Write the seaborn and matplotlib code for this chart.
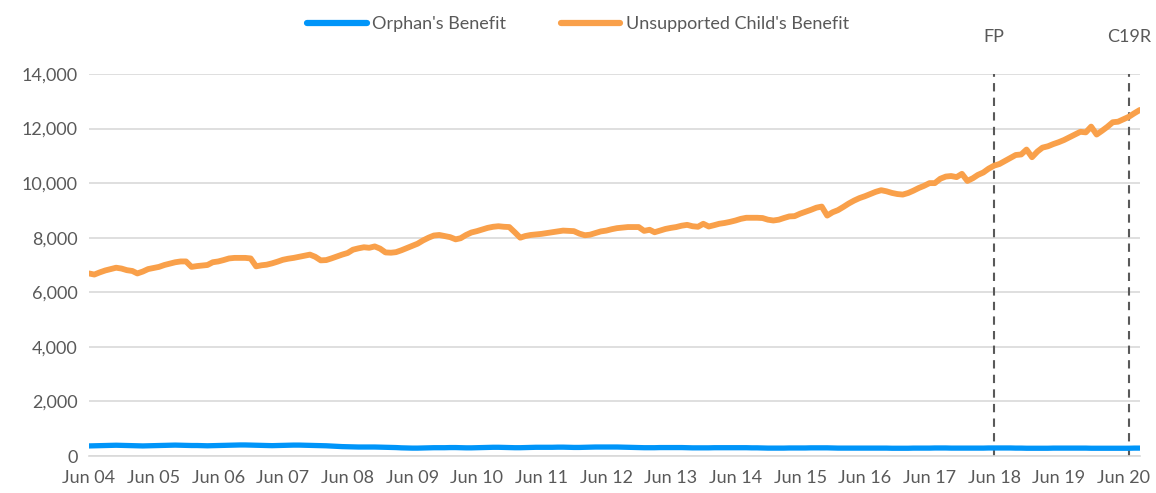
import numpy as np
import pandas as pd
import matplotlib
matplotlib.use('Agg')
import matplotlib.pyplot as plt
import matplotlib.transforms as mtransforms
from matplotlib.ticker import FuncFormatter
import seaborn as sns

# ---------------------------------------------------------------------------
# DATA  (monthly, Jun 2004 - Sep 2020)
# ---------------------------------------------------------------------------
START_MONTH = '2004-06-01'

orphans_benefit = [
    370, 375, 380, 385, 390, 395, 390, 385, 380, 375, 370, 375,   # Jun04-May05
    380, 385, 390, 395, 400, 395, 390, 385, 385, 380, 375, 380,   # Jun05-May06
    385, 390, 395, 400, 405, 405, 400, 395, 390, 385, 380, 385,   # Jun06-May07
    390, 395, 400, 400, 395, 390, 385, 380, 375, 365, 355, 345,   # Jun07-May08
    340, 335, 330, 330, 330, 330, 325, 320, 315, 310, 300, 295,   # Jun08-May09
    290, 290, 295, 300, 305, 305, 305, 310, 310, 305, 300, 300,   # Jun09-May10
    305, 310, 315, 320, 320, 315, 310, 305, 305, 310, 315, 320,   # Jun10-May11
    320, 320, 320, 325, 325, 320, 315, 315, 320, 325, 330, 330,   # Jun11-May12
    330, 330, 330, 325, 320, 315, 310, 305, 305, 305, 310, 310,   # Jun12-May13
    310, 310, 310, 305, 300, 300, 300, 300, 305, 305, 305, 305,   # Jun13-May14
    305, 305, 305, 300, 300, 295, 290, 290, 290, 290, 295, 295,   # Jun14-May15
    295, 295, 300, 300, 300, 300, 295, 290, 290, 290, 290, 290,   # Jun15-May16
    290, 290, 290, 290, 290, 285, 285, 285, 285, 290, 290, 290,   # Jun16-May17
    290, 295, 295, 295, 290, 290, 290, 290, 290, 290, 290, 295,   # Jun17-May18
    295, 295, 295, 295, 290, 290, 285, 285, 285, 285, 285, 290,   # Jun18-May19
    290, 290, 290, 290, 290, 290, 285, 285, 285, 285, 285, 285,   # Jun19-May20
    285, 285, 290, 290,                                           # Jun20-Sep20
]

unsupported_childs_benefit = [
    6690, 6650, 6730, 6800, 6850, 6900, 6870, 6810, 6780, 6690, 6760, 6850,
    6890, 6930, 7000, 7050, 7100, 7130, 7130, 6930, 6960, 6980, 7000, 7100,
    7130, 7180, 7240, 7260, 7260, 7260, 7240, 6950, 6990, 7010, 7060, 7120,
    7190, 7230, 7260, 7300, 7340, 7380, 7300, 7170, 7180, 7240, 7310, 7380,
    7440, 7560, 7610, 7650, 7630, 7680, 7600, 7460, 7450, 7470, 7540, 7620,
    7700, 7780, 7900, 8000, 8080, 8100, 8060, 8020, 7940, 7980, 8100, 8190,
    8240, 8300, 8360, 8400, 8420, 8400, 8390, 8200, 8000, 8060, 8100, 8120,
    8140, 8170, 8200, 8230, 8260, 8250, 8240, 8150, 8090, 8110, 8170, 8230,
    8260, 8310, 8350, 8370, 8390, 8390, 8390, 8250, 8290, 8200, 8260, 8320,
    8360, 8390, 8440, 8470, 8420, 8400, 8510, 8410, 8460, 8510, 8540, 8580,
    8630, 8690, 8730, 8730, 8730, 8720, 8660, 8630, 8660, 8720, 8780, 8790,
    8880, 8950, 9020, 9100, 9140, 8810, 8930, 9010, 9130, 9250, 9360, 9450,
    9520, 9600, 9680, 9740, 9700, 9640, 9600, 9580, 9640, 9720, 9820, 9900,
    10000, 10000, 10160, 10240, 10260, 10220, 10340, 10080, 10180, 10300, 10390, 10530,
    10640, 10700, 10810, 10920, 11030, 11050, 11230, 10950, 11160, 11300, 11350, 11430,
    11500, 11580, 11680, 11780, 11880, 11860, 12070, 11780, 11920, 12060, 12230, 12250,
    12340, 12430, 12560, 12680,
]

series_names = ["Orphan's Benefit", "Unsupported Child's Benefit"]
series_colors = ['#0095F9', '#F9A04A']

event_labels = ['FP', 'C19R']
event_dates = ['2018-06-01', '2020-07-01']

# ---------------------------------------------------------------------------
# BUILD TABLE
# ---------------------------------------------------------------------------
months = pd.date_range(START_MONTH, periods=len(unsupported_childs_benefit), freq='MS')
df = pd.concat([
    pd.DataFrame({'month': months, 'recipients': orphans_benefit, 'benefit': series_names[0]}),
    pd.DataFrame({'month': months, 'recipients': unsupported_childs_benefit, 'benefit': series_names[1]}),
], ignore_index=True)

# ---------------------------------------------------------------------------
# PLOT
# ---------------------------------------------------------------------------
sns.set_style('white')
plt.rcParams['font.family'] = ['Lato', 'DejaVu Sans']

TEXT_GREY = '#595959'
GRID_GREY = '#d9d9d9'
FS = 13

fig, ax = plt.subplots(figsize=(11.56, 4.93), dpi=100)
fig.subplots_adjust(left=0.077, right=0.986, bottom=0.075, top=0.85)

sns.lineplot(data=df, x='month', y='recipients', hue='benefit',
             hue_order=series_names, palette=dict(zip(series_names, series_colors)),
             linewidth=4.2, ax=ax, legend=False)
# blue a touch thinner than orange
ax.lines[0].set_linewidth(3.8)

ax.set_ylim(0, 14000)
ax.set_xlim(months[0], months[-1])
ax.set_yticks(np.arange(0, 14001, 2000))
ax.yaxis.set_major_formatter(FuncFormatter(lambda v, _: f'{int(v):,}'))

jun_ticks = pd.date_range('2004-06-01', '2020-06-01', freq='12MS')
ax.set_xticks(jun_ticks)
ax.set_xticklabels([d.strftime('Jun %y') for d in jun_ticks])

ax.grid(axis='y', color=GRID_GREY, linewidth=1.2)
ax.set_axisbelow(True)
for side in ['top', 'right', 'left']:
    ax.spines[side].set_visible(False)
ax.spines['bottom'].set_color(GRID_GREY)
ax.spines['bottom'].set_linewidth(1.2)

ax.tick_params(axis='x', which='major', direction='out', length=7, width=1.2,
               color=GRID_GREY, labelsize=FS, labelcolor=TEXT_GREY, pad=3)
ax.tick_params(axis='y', length=0, labelsize=FS, labelcolor=TEXT_GREY, pad=8)
ax.set_xlabel('')
ax.set_ylabel('')

# event markers
trans = mtransforms.blended_transform_factory(ax.transData, ax.transAxes)
for lab, d in zip(event_labels, event_dates):
    ax.axvline(pd.Timestamp(d), color=TEXT_GREY, linestyle=(0, (4, 3)), linewidth=1.5, zorder=1)
    ax.text(pd.Timestamp(d), 1.075, lab, transform=trans, ha='center', va='bottom',
            fontsize=FS, color=TEXT_GREY)

# legend
handles = [plt.Line2D([], [], color=c, linewidth=4.5, solid_capstyle='round') for c in series_colors]
fig.legend(handles, series_names, loc='upper center', bbox_to_anchor=(0.5, 1.0),
           ncol=2, frameon=False, fontsize=FS, labelcolor=TEXT_GREY,
           handlelength=3.3, handletextpad=0.3, columnspacing=3.0)

fig.savefig('out.png', dpi=100)
plt.close(fig)
